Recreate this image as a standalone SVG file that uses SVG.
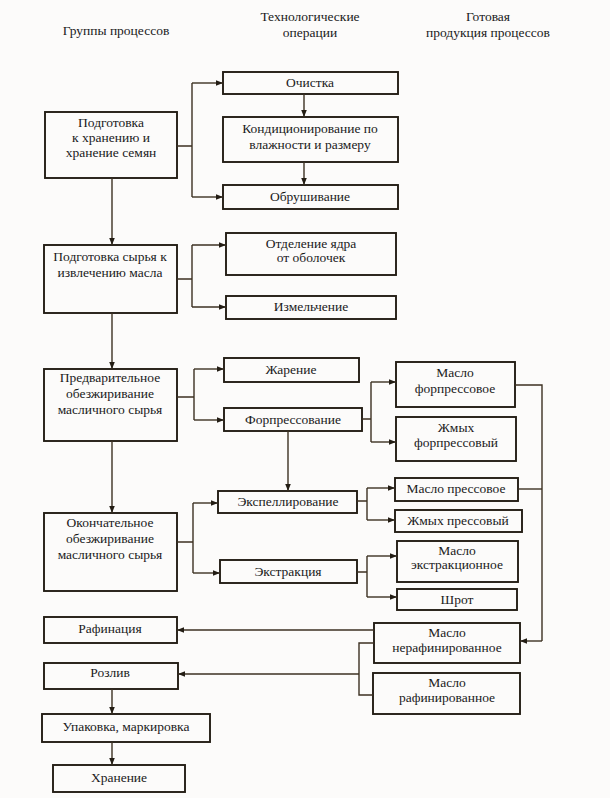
<svg xmlns="http://www.w3.org/2000/svg" width="610" height="798" viewBox="0 0 610 798">
<defs>
<style>
.bg{fill:#fcfbfa}
.box{fill:#fcfbfa;stroke:#231d14;stroke-width:1.9}
.t{font-family:"Liberation Serif","Times New Roman",serif;font-size:13.5px;fill:#1a1a1a;text-anchor:middle}
.c{fill:none;stroke:#3d3122;stroke-width:1.4}
.a{fill:none;stroke:#3d3122;stroke-width:1.4;marker-end:url(#ar)}
</style>
<marker id="ar" viewBox="0 0 10 10" refX="10" refY="5" markerWidth="9" markerHeight="7" markerUnits="userSpaceOnUse" orient="auto">
<path d="M0,1 L10,5 L0,9 Z" fill="#231d14"/>
</marker>
</defs>
<rect class="bg" x="0" y="0" width="610" height="798"/>

<g id="headers">
<text class="t" x="116" y="35">Группы процессов</text>
<text class="t" x="310" y="21">Технологические</text>
<text class="t" x="310" y="37">операции</text>
<text class="t" x="488" y="21">Готовая</text>
<text class="t" x="488" y="37">продукция процессов</text>
</g>

<g id="n1"><rect class="box" x="45" y="112" width="132" height="66"/>
<text class="t" x="111" y="127">Подготовка</text><text class="t" x="111" y="142">к хранению и</text><text class="t" x="111" y="157">хранение семян</text></g>
<g id="n2"><rect class="box" x="223" y="72" width="175" height="22"/><text class="t" x="310" y="87">Очистка</text></g>
<g id="n3"><rect class="box" x="223" y="117" width="175" height="45"/>
<text class="t" x="310" y="133">Кондиционирование по</text><text class="t" x="310" y="149">влажности и размеру</text></g>
<g id="n4"><rect class="box" x="223" y="185" width="175" height="24"/><text class="t" x="310" y="201">Обрушивание</text></g>

<g id="n5"><rect class="box" x="44" y="245" width="133" height="68"/>
<text class="t" x="110" y="261">Подготовка сырья к</text><text class="t" x="110" y="277">извлечению масла</text></g>
<g id="n6"><rect class="box" x="226" y="233" width="170" height="42"/>
<text class="t" x="311" y="248">Отделение ядра</text><text class="t" x="311" y="262">от оболочек</text></g>
<g id="n7"><rect class="box" x="226" y="296" width="170" height="23"/><text class="t" x="311" y="311">Измельчение</text></g>

<g id="n8"><rect class="box" x="44" y="369" width="133" height="72"/>
<text class="t" x="110" y="382">Предварительное</text><text class="t" x="110" y="398">обезжиривание</text><text class="t" x="110" y="414">масличного сырья</text></g>
<g id="n9"><rect class="box" x="224" y="358" width="135" height="24"/><text class="t" x="291" y="374">Жарение</text></g>
<g id="n10"><rect class="box" x="224" y="408" width="138" height="23"/><text class="t" x="293" y="424">Форпрессование</text></g>
<g id="n11"><rect class="box" x="396" y="362" width="119" height="45"/>
<text class="t" x="455" y="377">Масло</text><text class="t" x="455" y="393">форпрессовое</text></g>
<g id="n12"><rect class="box" x="396" y="417" width="120" height="44"/>
<text class="t" x="456" y="432">Жмых</text><text class="t" x="456" y="447">форпрессовый</text></g>

<g id="n13"><rect class="box" x="218" y="491" width="139" height="22"/><text class="t" x="288" y="506">Экспеллирование</text></g>
<g id="n14"><rect class="box" x="395" y="478" width="123" height="23"/><text class="t" x="456" y="493">Масло прессовое</text></g>
<g id="n15"><rect class="box" x="395" y="510" width="127" height="22"/><text class="t" x="458" y="525">Жмых прессовый</text></g>
<g id="n16"><rect class="box" x="44" y="513" width="133" height="78"/>
<text class="t" x="110" y="527">Окончательное</text><text class="t" x="110" y="543">обезжиривание</text><text class="t" x="110" y="559">масличного сырья</text></g>
<g id="n17"><rect class="box" x="220" y="560" width="137" height="23"/><text class="t" x="288" y="576">Экстракция</text></g>
<g id="n18"><rect class="box" x="397" y="541" width="121" height="41"/>
<text class="t" x="457" y="555">Масло</text><text class="t" x="457" y="569">экстракционное</text></g>
<g id="n19"><rect class="box" x="397" y="589" width="120" height="21"/><text class="t" x="457" y="604">Шрот</text></g>

<g id="n20"><rect class="box" x="44" y="617" width="133" height="26"/><text class="t" x="110" y="633">Рафинация</text></g>
<g id="n21"><rect class="box" x="374" y="623" width="146" height="40"/>
<text class="t" x="447" y="637">Масло</text><text class="t" x="447" y="652">нерафинированное</text></g>
<g id="n22"><rect class="box" x="44" y="663" width="134" height="26"/><text class="t" x="110" y="677">Розлив</text></g>
<g id="n23"><rect class="box" x="373" y="673" width="147" height="41"/>
<text class="t" x="447" y="687">Масло</text><text class="t" x="447" y="702">рафинированное</text></g>
<g id="n24"><rect class="box" x="42" y="714" width="168" height="28"/><text class="t" x="126" y="731">Упаковка, маркировка</text></g>
<g id="n25"><rect class="box" x="53" y="765" width="132" height="27"/><text class="t" x="119" y="782">Хранение</text></g>

<g id="connectors">
<path class="c" d="M177,146 H192 M192,83 V197"/>
<path class="a" d="M192,83 H223"/>
<path class="a" d="M192,197 H223"/>
<path class="a" d="M304,94 V117"/>
<path class="a" d="M304,162 V185"/>
<path class="a" d="M112,178 V245"/>

<path class="c" d="M177,279 H192 M192,245 V307"/>
<path class="a" d="M192,245 H226"/>
<path class="a" d="M192,307 H226"/>
<path class="a" d="M112,313 V369"/>

<path class="c" d="M177,397 H194 M194,369 V420"/>
<path class="a" d="M194,369 H224"/>
<path class="a" d="M194,420 H224"/>
<path class="c" d="M362,419 H371 M371,382 V442"/>
<path class="a" d="M371,382 H396"/>
<path class="a" d="M371,442 H396"/>
<path class="c" d="M515,385 H542 V641"/>
<path class="a" d="M542,641 H520"/>
<path class="c" d="M518,489 H542"/>
<path class="a" d="M288,431 V491"/>
<path class="a" d="M112,441 V513"/>

<path class="c" d="M177,542 H193 M193,503 V573"/>
<path class="a" d="M193,503 H218"/>
<path class="a" d="M193,573 H220"/>
<path class="c" d="M357,501 H367 M367,488 V520"/>
<path class="a" d="M367,488 H395"/>
<path class="a" d="M367,520 H395"/>
<path class="c" d="M357,572 H367 M367,556 V597"/>
<path class="a" d="M367,556 H397"/>
<path class="a" d="M367,597 H397"/>

<path class="a" d="M374,630 H177"/>
<path class="c" d="M374,643 H359 V695 H373"/>
<path class="a" d="M359,674 H178"/>
<path class="a" d="M112,689 V714"/>
<path class="a" d="M112,742 V765"/>
</g>
</svg>
